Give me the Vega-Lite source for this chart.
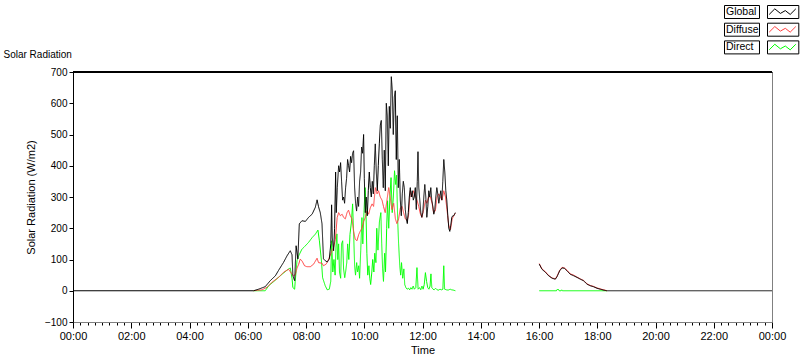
{
  "$schema": "https://vega.github.io/schema/vega-lite/v6.json",
  "width": 699,
  "height": 250,
  "autosize": {"type": "none"},
  "padding": {"left": 73, "top": 72, "right": 28, "bottom": 39},
  "background": "white",
  "data": {"values": [
    {"s":"Global","p":1,"h":0,"v":0},{"s":"Global","p":1,"h":6.2,"v":0},{"s":"Global","p":1,"h":6.37,"v":5},{"s":"Global","p":1,"h":6.6,"v":13},{"s":"Global","p":1,"h":6.77,"v":32},{"s":"Global","p":1,"h":6.95,"v":48},{"s":"Global","p":1,"h":7.05,"v":64},{"s":"Global","p":1,"h":7.23,"v":91},{"s":"Global","p":1,"h":7.35,"v":112},{"s":"Global","p":1,"h":7.46,"v":128},{"s":"Global","p":1,"h":7.52,"v":115},{"s":"Global","p":1,"h":7.55,"v":48},{"s":"Global","p":1,"h":7.61,"v":32},{"s":"Global","p":1,"h":7.66,"v":144},{"s":"Global","p":1,"h":7.72,"v":102},{"s":"Global","p":1,"h":7.77,"v":214},{"s":"Global","p":1,"h":7.86,"v":224},{"s":"Global","p":1,"h":7.98,"v":222},{"s":"Global","p":1,"h":8.09,"v":235},{"s":"Global","p":1,"h":8.21,"v":245},{"s":"Global","p":1,"h":8.32,"v":267},{"s":"Global","p":1,"h":8.38,"v":291},{"s":"Global","p":1,"h":8.43,"v":269},{"s":"Global","p":1,"h":8.49,"v":250},{"s":"Global","p":1,"h":8.55,"v":214},{"s":"Global","p":1,"h":8.6,"v":102},
    {"s":"Global","p":1,"h":8.663,"v":96},{"s":"Global","p":1,"h":8.732,"v":92},{"s":"Global","p":1,"h":8.8,"v":102},{"s":"Global","p":1,"h":8.852,"v":150},{"s":"Global","p":1,"h":8.879,"v":275},{"s":"Global","p":1,"h":8.903,"v":170},{"s":"Global","p":1,"h":8.948,"v":128},{"s":"Global","p":1,"h":8.982,"v":200},{"s":"Global","p":1,"h":9.017,"v":380},{"s":"Global","p":1,"h":9.04,"v":250},{"s":"Global","p":1,"h":9.075,"v":330},{"s":"Global","p":1,"h":9.12,"v":400},{"s":"Global","p":1,"h":9.154,"v":380},{"s":"Global","p":1,"h":9.188,"v":410},{"s":"Global","p":1,"h":9.222,"v":350},{"s":"Global","p":1,"h":9.257,"v":290},{"s":"Global","p":1,"h":9.291,"v":300},{"s":"Global","p":1,"h":9.325,"v":280},{"s":"Global","p":1,"h":9.36,"v":330},{"s":"Global","p":1,"h":9.394,"v":360},{"s":"Global","p":1,"h":9.428,"v":420},{"s":"Global","p":1,"h":9.463,"v":400},{"s":"Global","p":1,"h":9.497,"v":380},{"s":"Global","p":1,"h":9.531,"v":430},{"s":"Global","p":1,"h":9.566,"v":410},{"s":"Global","p":1,"h":9.6,"v":440},{"s":"Global","p":1,"h":9.634,"v":448},{"s":"Global","p":1,"h":9.669,"v":330},{"s":"Global","p":1,"h":9.703,"v":280},{"s":"Global","p":1,"h":9.737,"v":255},{"s":"Global","p":1,"h":9.772,"v":300},{"s":"Global","p":1,"h":9.806,"v":270},{"s":"Global","p":1,"h":9.84,"v":350},{"s":"Global","p":1,"h":9.875,"v":380},{"s":"Global","p":1,"h":9.909,"v":460},{"s":"Global","p":1,"h":9.943,"v":440},{"s":"Global","p":1,"h":9.978,"v":500},{"s":"Global","p":1,"h":10.002,"v":360},{"s":"Global","p":1,"h":10.036,"v":250},{"s":"Global","p":1,"h":10.07,"v":300},{"s":"Global","p":1,"h":10.105,"v":240},{"s":"Global","p":1,"h":10.139,"v":320},{"s":"Global","p":1,"h":10.173,"v":380},{"s":"Global","p":1,"h":10.208,"v":330},{"s":"Global","p":1,"h":10.242,"v":300},{"s":"Global","p":1,"h":10.276,"v":350},{"s":"Global","p":1,"h":10.311,"v":310},{"s":"Global","p":1,"h":10.345,"v":400},{"s":"Global","p":1,"h":10.379,"v":470},{"s":"Global","p":1,"h":10.414,"v":380},{"s":"Global","p":1,"h":10.448,"v":320},{"s":"Global","p":1,"h":10.482,"v":400},{"s":"Global","p":1,"h":10.517,"v":470},{"s":"Global","p":1,"h":10.551,"v":530},{"s":"Global","p":1,"h":10.585,"v":545},{"s":"Global","p":1,"h":10.62,"v":420},{"s":"Global","p":1,"h":10.654,"v":330},{"s":"Global","p":1,"h":10.688,"v":450},{"s":"Global","p":1,"h":10.723,"v":320},{"s":"Global","p":1,"h":10.757,"v":600},{"s":"Global","p":1,"h":10.791,"v":560},{"s":"Global","p":1,"h":10.826,"v":400},{"s":"Global","p":1,"h":10.86,"v":590},{"s":"Global","p":1,"h":10.894,"v":520},{"s":"Global","p":1,"h":10.929,"v":685},{"s":"Global","p":1,"h":10.963,"v":640},{"s":"Global","p":1,"h":10.997,"v":500},{"s":"Global","p":1,"h":11.032,"v":620},{"s":"Global","p":1,"h":11.066,"v":640},{"s":"Global","p":1,"h":11.1,"v":420},{"s":"Global","p":1,"h":11.135,"v":560},{"s":"Global","p":1,"h":11.169,"v":330},{"s":"Global","p":1,"h":11.203,"v":420},{"s":"Global","p":1,"h":11.238,"v":290},{"s":"Global","p":1,"h":11.272,"v":240},{"s":"Global","p":1,"h":11.306,"v":310},{"s":"Global","p":1,"h":11.341,"v":350},{"s":"Global","p":1,"h":11.375,"v":330},{"s":"Global","p":1,"h":11.409,"v":260},{"s":"Global","p":1,"h":11.444,"v":230},{"s":"Global","p":1,"h":11.478,"v":215},{"s":"Global","p":1,"h":11.512,"v":250},{"s":"Global","p":1,"h":11.547,"v":300},{"s":"Global","p":1,"h":11.581,"v":330},{"s":"Global","p":1,"h":11.615,"v":300},{"s":"Global","p":1,"h":11.65,"v":320},{"s":"Global","p":1,"h":11.684,"v":290},{"s":"Global","p":1,"h":11.718,"v":300},{"s":"Global","p":1,"h":11.753,"v":330},{"s":"Global","p":1,"h":11.787,"v":260},{"s":"Global","p":1,"h":11.821,"v":350},{"s":"Global","p":1,"h":11.845,"v":445},{"s":"Global","p":1,"h":11.873,"v":330},{"s":"Global","p":1,"h":11.907,"v":290},{"s":"Global","p":1,"h":11.942,"v":250},{"s":"Global","p":1,"h":11.976,"v":235},{"s":"Global","p":1,"h":12.01,"v":250},{"s":"Global","p":1,"h":12.045,"v":300},{"s":"Global","p":1,"h":12.079,"v":340},{"s":"Global","p":1,"h":12.113,"v":300},{"s":"Global","p":1,"h":12.148,"v":235},{"s":"Global","p":1,"h":12.182,"v":270},{"s":"Global","p":1,"h":12.216,"v":320},{"s":"Global","p":1,"h":12.251,"v":300},{"s":"Global","p":1,"h":12.285,"v":330},{"s":"Global","p":1,"h":12.319,"v":290},{"s":"Global","p":1,"h":12.354,"v":270},{"s":"Global","p":1,"h":12.388,"v":245},{"s":"Global","p":1,"h":12.422,"v":260},{"s":"Global","p":1,"h":12.457,"v":300},{"s":"Global","p":1,"h":12.491,"v":330},{"s":"Global","p":1,"h":12.525,"v":310},{"s":"Global","p":1,"h":12.56,"v":280},{"s":"Global","p":1,"h":12.594,"v":300},{"s":"Global","p":1,"h":12.628,"v":320},{"s":"Global","p":1,"h":12.663,"v":290},{"s":"Global","p":1,"h":12.697,"v":350},{"s":"Global","p":1,"h":12.731,"v":420},{"s":"Global","p":1,"h":12.766,"v":380},{"s":"Global","p":1,"h":12.8,"v":320},{"s":"Global","p":1,"h":12.834,"v":290},{"s":"Global","p":1,"h":12.869,"v":240},{"s":"Global","p":1,"h":12.903,"v":200},{"s":"Global","p":1,"h":12.937,"v":190},{"s":"Global","p":1,"h":12.972,"v":210},{"s":"Global","p":1,"h":13.006,"v":235},{"s":"Global","p":1,"h":13.04,"v":240},{"s":"Global","p":1,"h":13.075,"v":240},{"s":"Global","p":1,"h":13.126,"v":250},
    {"s":"Global","p":2,"h":16.01,"v":85},{"s":"Global","p":2,"h":16.1,"v":69},{"s":"Global","p":2,"h":16.22,"v":59},{"s":"Global","p":2,"h":16.33,"v":48},{"s":"Global","p":2,"h":16.45,"v":40},{"s":"Global","p":2,"h":16.56,"v":37},{"s":"Global","p":2,"h":16.62,"v":45},{"s":"Global","p":2,"h":16.71,"v":64},{"s":"Global","p":2,"h":16.79,"v":73},{"s":"Global","p":2,"h":16.87,"v":72},{"s":"Global","p":2,"h":16.96,"v":64},{"s":"Global","p":2,"h":17.07,"v":53},{"s":"Global","p":2,"h":17.19,"v":48},{"s":"Global","p":2,"h":17.3,"v":43},{"s":"Global","p":2,"h":17.42,"v":37},{"s":"Global","p":2,"h":17.53,"v":32},{"s":"Global","p":2,"h":17.65,"v":21},{"s":"Global","p":2,"h":17.76,"v":16},{"s":"Global","p":2,"h":17.87,"v":13},{"s":"Global","p":2,"h":17.99,"v":8},{"s":"Global","p":2,"h":18.1,"v":5},{"s":"Global","p":2,"h":18.22,"v":2},{"s":"Global","p":2,"h":18.33,"v":0},{"s":"Global","p":2,"h":24,"v":0},
    {"s":"Diffuse","p":1,"h":6.2,"v":0},{"s":"Diffuse","p":1,"h":6.49,"v":3},{"s":"Diffuse","p":1,"h":6.66,"v":11},{"s":"Diffuse","p":1,"h":6.83,"v":27},{"s":"Diffuse","p":1,"h":7.06,"v":43},{"s":"Diffuse","p":1,"h":7.23,"v":59},{"s":"Diffuse","p":1,"h":7.4,"v":69},{"s":"Diffuse","p":1,"h":7.52,"v":53},{"s":"Diffuse","p":1,"h":7.57,"v":48},{"s":"Diffuse","p":1,"h":7.63,"v":51},{"s":"Diffuse","p":1,"h":7.69,"v":72},{"s":"Diffuse","p":1,"h":7.75,"v":85},{"s":"Diffuse","p":1,"h":7.8,"v":101},{"s":"Diffuse","p":1,"h":7.86,"v":96},{"s":"Diffuse","p":1,"h":7.95,"v":80},{"s":"Diffuse","p":1,"h":8.03,"v":77},{"s":"Diffuse","p":1,"h":8.15,"v":77},{"s":"Diffuse","p":1,"h":8.26,"v":85},{"s":"Diffuse","p":1,"h":8.38,"v":104},{"s":"Diffuse","p":1,"h":8.43,"v":90},{"s":"Diffuse","p":1,"h":8.55,"v":88},{"s":"Diffuse","p":1,"h":8.6,"v":80},{"s":"Diffuse","p":1,"h":8.69,"v":85},{"s":"Diffuse","p":1,"h":8.78,"v":101},{"s":"Diffuse","p":1,"h":8.87,"v":123},{"s":"Diffuse","p":1,"h":8.95,"v":139},{"s":"Diffuse","p":1,"h":9.01,"v":165},{"s":"Diffuse","p":1,"h":9.07,"v":234},{"s":"Diffuse","p":1,"h":9.12,"v":250},{"s":"Diffuse","p":1,"h":9.18,"v":240},{"s":"Diffuse","p":1,"h":9.24,"v":245},{"s":"Diffuse","p":1,"h":9.29,"v":235},{"s":"Diffuse","p":1,"h":9.35,"v":230},{"s":"Diffuse","p":1,"h":9.41,"v":250},{"s":"Diffuse","p":1,"h":9.46,"v":258},{"s":"Diffuse","p":1,"h":9.52,"v":240},{"s":"Diffuse","p":1,"h":9.58,"v":230},{"s":"Diffuse","p":1,"h":9.63,"v":192},{"s":"Diffuse","p":1,"h":9.69,"v":165},{"s":"Diffuse","p":1,"h":9.75,"v":160},{"s":"Diffuse","p":1,"h":9.81,"v":180},{"s":"Diffuse","p":1,"h":9.86,"v":190},{"s":"Diffuse","p":1,"h":9.92,"v":200},{"s":"Diffuse","p":1,"h":9.98,"v":222},{"s":"Diffuse","p":1,"h":10.04,"v":235},{"s":"Diffuse","p":1,"h":10.09,"v":255},{"s":"Diffuse","p":1,"h":10.15,"v":245},{"s":"Diffuse","p":1,"h":10.21,"v":266},{"s":"Diffuse","p":1,"h":10.27,"v":278},{"s":"Diffuse","p":1,"h":10.32,"v":270},{"s":"Diffuse","p":1,"h":10.38,"v":330},{"s":"Diffuse","p":1,"h":10.44,"v":310},{"s":"Diffuse","p":1,"h":10.49,"v":320},{"s":"Diffuse","p":1,"h":10.55,"v":300},{"s":"Diffuse","p":1,"h":10.61,"v":290},{"s":"Diffuse","p":1,"h":10.66,"v":270},{"s":"Diffuse","p":1,"h":10.72,"v":250},{"s":"Diffuse","p":1,"h":10.78,"v":290},{"s":"Diffuse","p":1,"h":10.84,"v":330},{"s":"Diffuse","p":1,"h":10.89,"v":300},{"s":"Diffuse","p":1,"h":10.95,"v":260},{"s":"Diffuse","p":1,"h":11.01,"v":280},{"s":"Diffuse","p":1,"h":11.07,"v":230},{"s":"Diffuse","p":1,"h":11.12,"v":215},{"s":"Diffuse","p":1,"h":11.18,"v":230},{"s":"Diffuse","p":1,"h":11.24,"v":265},{"s":"Diffuse","p":1,"h":11.3,"v":270},{"s":"Diffuse","p":1,"h":11.35,"v":250},{"s":"Diffuse","p":1,"h":11.41,"v":230},{"s":"Diffuse","p":1,"h":11.47,"v":225},{"s":"Diffuse","p":1,"h":11.52,"v":240},{"s":"Diffuse","p":1,"h":11.58,"v":320},{"s":"Diffuse","p":1,"h":11.64,"v":300},{"s":"Diffuse","p":1,"h":11.69,"v":320},{"s":"Diffuse","p":1,"h":11.75,"v":305},{"s":"Diffuse","p":1,"h":11.81,"v":290},{"s":"Diffuse","p":1,"h":11.87,"v":270},{"s":"Diffuse","p":1,"h":11.93,"v":245},{"s":"Diffuse","p":1,"h":11.98,"v":235},{"s":"Diffuse","p":1,"h":12.04,"v":260},{"s":"Diffuse","p":1,"h":12.1,"v":290},{"s":"Diffuse","p":1,"h":12.15,"v":280},{"s":"Diffuse","p":1,"h":12.21,"v":300},{"s":"Diffuse","p":1,"h":12.27,"v":300},{"s":"Diffuse","p":1,"h":12.33,"v":280},{"s":"Diffuse","p":1,"h":12.38,"v":250},{"s":"Diffuse","p":1,"h":12.44,"v":255},{"s":"Diffuse","p":1,"h":12.5,"v":300},{"s":"Diffuse","p":1,"h":12.56,"v":310},{"s":"Diffuse","p":1,"h":12.61,"v":300},{"s":"Diffuse","p":1,"h":12.67,"v":290},{"s":"Diffuse","p":1,"h":12.73,"v":320},{"s":"Diffuse","p":1,"h":12.79,"v":300},{"s":"Diffuse","p":1,"h":12.84,"v":260},{"s":"Diffuse","p":1,"h":12.9,"v":210},{"s":"Diffuse","p":1,"h":12.96,"v":195},{"s":"Diffuse","p":1,"h":13.02,"v":230},{"s":"Diffuse","p":1,"h":13.07,"v":240},{"s":"Diffuse","p":1,"h":13.13,"v":248},
    {"s":"Diffuse","p":2,"h":16.01,"v":87},{"s":"Diffuse","p":2,"h":16.1,"v":70},{"s":"Diffuse","p":2,"h":16.22,"v":61},{"s":"Diffuse","p":2,"h":16.33,"v":49},{"s":"Diffuse","p":2,"h":16.45,"v":41},{"s":"Diffuse","p":2,"h":16.56,"v":38},{"s":"Diffuse","p":2,"h":16.62,"v":47},{"s":"Diffuse","p":2,"h":16.71,"v":65},{"s":"Diffuse","p":2,"h":16.79,"v":75},{"s":"Diffuse","p":2,"h":16.87,"v":73},{"s":"Diffuse","p":2,"h":16.96,"v":66},{"s":"Diffuse","p":2,"h":17.07,"v":54},{"s":"Diffuse","p":2,"h":17.19,"v":50},{"s":"Diffuse","p":2,"h":17.3,"v":44},{"s":"Diffuse","p":2,"h":17.42,"v":38},{"s":"Diffuse","p":2,"h":17.53,"v":33},{"s":"Diffuse","p":2,"h":17.65,"v":22},{"s":"Diffuse","p":2,"h":17.76,"v":17},{"s":"Diffuse","p":2,"h":17.87,"v":14},{"s":"Diffuse","p":2,"h":17.99,"v":9},{"s":"Diffuse","p":2,"h":18.1,"v":6},{"s":"Diffuse","p":2,"h":18.22,"v":3},{"s":"Diffuse","p":2,"h":18.33,"v":0},
    {"s":"Direct","p":1,"h":6.2,"v":0},{"s":"Direct","p":1,"h":6.6,"v":0},{"s":"Direct","p":1,"h":6.72,"v":16},{"s":"Direct","p":1,"h":6.95,"v":34},{"s":"Direct","p":1,"h":7.18,"v":53},{"s":"Direct","p":1,"h":7.35,"v":66},{"s":"Direct","p":1,"h":7.46,"v":73},{"s":"Direct","p":1,"h":7.52,"v":40},{"s":"Direct","p":1,"h":7.55,"v":10},{"s":"Direct","p":1,"h":7.61,"v":5},{"s":"Direct","p":1,"h":7.63,"v":30},{"s":"Direct","p":1,"h":7.69,"v":96},{"s":"Direct","p":1,"h":7.75,"v":112},{"s":"Direct","p":1,"h":7.86,"v":133},{"s":"Direct","p":1,"h":7.98,"v":144},{"s":"Direct","p":1,"h":8.09,"v":155},{"s":"Direct","p":1,"h":8.21,"v":170},{"s":"Direct","p":1,"h":8.32,"v":181},{"s":"Direct","p":1,"h":8.41,"v":194},{"s":"Direct","p":1,"h":8.46,"v":160},{"s":"Direct","p":1,"h":8.53,"v":96},{"s":"Direct","p":1,"h":8.57,"v":42},{"s":"Direct","p":1,"h":8.66,"v":16},{"s":"Direct","p":1,"h":8.73,"v":3},{"s":"Direct","p":1,"h":8.8,"v":5},{"s":"Direct","p":1,"h":8.85,"v":30},{"s":"Direct","p":1,"h":8.88,"v":160},{"s":"Direct","p":1,"h":8.92,"v":60},{"s":"Direct","p":1,"h":8.96,"v":100},{"s":"Direct","p":1,"h":9.0,"v":50},{"s":"Direct","p":1,"h":9.03,"v":140},{"s":"Direct","p":1,"h":9.06,"v":182},{"s":"Direct","p":1,"h":9.09,"v":100},{"s":"Direct","p":1,"h":9.12,"v":150},{"s":"Direct","p":1,"h":9.15,"v":60},{"s":"Direct","p":1,"h":9.19,"v":40},{"s":"Direct","p":1,"h":9.22,"v":150},{"s":"Direct","p":1,"h":9.26,"v":160},{"s":"Direct","p":1,"h":9.29,"v":70},{"s":"Direct","p":1,"h":9.33,"v":42},{"s":"Direct","p":1,"h":9.36,"v":60},{"s":"Direct","p":1,"h":9.4,"v":90},{"s":"Direct","p":1,"h":9.43,"v":150},{"s":"Direct","p":1,"h":9.47,"v":100},{"s":"Direct","p":1,"h":9.51,"v":180},{"s":"Direct","p":1,"h":9.56,"v":220},{"s":"Direct","p":1,"h":9.6,"v":278},{"s":"Direct","p":1,"h":9.63,"v":200},{"s":"Direct","p":1,"h":9.67,"v":80},{"s":"Direct","p":1,"h":9.7,"v":50},{"s":"Direct","p":1,"h":9.74,"v":90},{"s":"Direct","p":1,"h":9.77,"v":60},{"s":"Direct","p":1,"h":9.81,"v":80},{"s":"Direct","p":1,"h":9.84,"v":40},{"s":"Direct","p":1,"h":9.88,"v":130},{"s":"Direct","p":1,"h":9.92,"v":234},{"s":"Direct","p":1,"h":9.95,"v":150},{"s":"Direct","p":1,"h":9.99,"v":250},{"s":"Direct","p":1,"h":10.03,"v":330},{"s":"Direct","p":1,"h":10.06,"v":250},{"s":"Direct","p":1,"h":10.09,"v":120},{"s":"Direct","p":1,"h":10.12,"v":50},{"s":"Direct","p":1,"h":10.16,"v":80},{"s":"Direct","p":1,"h":10.19,"v":40},{"s":"Direct","p":1,"h":10.22,"v":20},{"s":"Direct","p":1,"h":10.26,"v":60},{"s":"Direct","p":1,"h":10.29,"v":100},{"s":"Direct","p":1,"h":10.33,"v":60},{"s":"Direct","p":1,"h":10.36,"v":120},{"s":"Direct","p":1,"h":10.4,"v":90},{"s":"Direct","p":1,"h":10.43,"v":200},{"s":"Direct","p":1,"h":10.47,"v":130},{"s":"Direct","p":1,"h":10.52,"v":220},{"s":"Direct","p":1,"h":10.57,"v":250},{"s":"Direct","p":1,"h":10.6,"v":150},{"s":"Direct","p":1,"h":10.63,"v":70},{"s":"Direct","p":1,"h":10.66,"v":30},{"s":"Direct","p":1,"h":10.7,"v":120},{"s":"Direct","p":1,"h":10.73,"v":60},{"s":"Direct","p":1,"h":10.77,"v":200},{"s":"Direct","p":1,"h":10.8,"v":288},{"s":"Direct","p":1,"h":10.84,"v":200},{"s":"Direct","p":1,"h":10.88,"v":300},{"s":"Direct","p":1,"h":10.92,"v":362},{"s":"Direct","p":1,"h":10.96,"v":250},{"s":"Direct","p":1,"h":11.0,"v":300},{"s":"Direct","p":1,"h":11.04,"v":384},{"s":"Direct","p":1,"h":11.08,"v":340},{"s":"Direct","p":1,"h":11.11,"v":370},{"s":"Direct","p":1,"h":11.15,"v":220},{"s":"Direct","p":1,"h":11.18,"v":150},{"s":"Direct","p":1,"h":11.22,"v":80},{"s":"Direct","p":1,"h":11.25,"v":50},{"s":"Direct","p":1,"h":11.28,"v":90},{"s":"Direct","p":1,"h":11.32,"v":40},{"s":"Direct","p":1,"h":11.36,"v":70},{"s":"Direct","p":1,"h":11.39,"v":20},{"s":"Direct","p":1,"h":11.43,"v":10},{"s":"Direct","p":1,"h":11.47,"v":5},{"s":"Direct","p":1,"h":11.52,"v":8},{"s":"Direct","p":1,"h":11.56,"v":3},{"s":"Direct","p":1,"h":11.6,"v":10},{"s":"Direct","p":1,"h":11.64,"v":5},{"s":"Direct","p":1,"h":11.68,"v":15},{"s":"Direct","p":1,"h":11.72,"v":5},{"s":"Direct","p":1,"h":11.77,"v":10},{"s":"Direct","p":1,"h":11.81,"v":74},{"s":"Direct","p":1,"h":11.85,"v":5},{"s":"Direct","p":1,"h":11.9,"v":10},{"s":"Direct","p":1,"h":11.94,"v":3},{"s":"Direct","p":1,"h":11.98,"v":15},{"s":"Direct","p":1,"h":12.02,"v":5},{"s":"Direct","p":1,"h":12.06,"v":20},{"s":"Direct","p":1,"h":12.1,"v":58},{"s":"Direct","p":1,"h":12.14,"v":30},{"s":"Direct","p":1,"h":12.18,"v":10},{"s":"Direct","p":1,"h":12.22,"v":5},{"s":"Direct","p":1,"h":12.26,"v":15},{"s":"Direct","p":1,"h":12.29,"v":54},{"s":"Direct","p":1,"h":12.32,"v":10},{"s":"Direct","p":1,"h":12.36,"v":5},{"s":"Direct","p":1,"h":12.4,"v":3},{"s":"Direct","p":1,"h":12.45,"v":8},{"s":"Direct","p":1,"h":12.5,"v":3},{"s":"Direct","p":1,"h":12.55,"v":2},{"s":"Direct","p":1,"h":12.6,"v":5},{"s":"Direct","p":1,"h":12.65,"v":3},{"s":"Direct","p":1,"h":12.7,"v":5},{"s":"Direct","p":1,"h":12.73,"v":80},{"s":"Direct","p":1,"h":12.76,"v":5},{"s":"Direct","p":1,"h":12.82,"v":3},{"s":"Direct","p":1,"h":12.88,"v":2},{"s":"Direct","p":1,"h":12.95,"v":5},{"s":"Direct","p":1,"h":13.0,"v":3},{"s":"Direct","p":1,"h":13.06,"v":2},{"s":"Direct","p":1,"h":13.13,"v":0},
    {"s":"Direct","p":2,"h":16.01,"v":0},{"s":"Direct","p":2,"h":16.6,"v":0},{"s":"Direct","p":2,"h":16.62,"v":4},{"s":"Direct","p":2,"h":16.67,"v":4},{"s":"Direct","p":2,"h":16.69,"v":0},{"s":"Direct","p":2,"h":16.76,"v":0},{"s":"Direct","p":2,"h":16.78,"v":3},{"s":"Direct","p":2,"h":16.8,"v":0},{"s":"Direct","p":2,"h":18.33,"v":0}
  ]},
  "resolve": {"axis": {"x": "independent", "y": "independent"}},
  "layer": [
    {
      "encoding": {
        "x": {"field": "h", "type": "quantitative", "title": "Time",
          "scale": {"domain": [0, 24], "nice": false, "zero": false},
          "axis": {
            "orient": "bottom",
            "values": [0,0.25,0.5,0.75,1,1.25,1.5,1.75,2,2.25,2.5,2.75,3,3.25,3.5,3.75,4,4.25,4.5,4.75,5,5.25,5.5,5.75,6,6.25,6.5,6.75,7,7.25,7.5,7.75,8,8.25,8.5,8.75,9,9.25,9.5,9.75,10,10.25,10.5,10.75,11,11.25,11.5,11.75,12,12.25,12.5,12.75,13,13.25,13.5,13.75,14,14.25,14.5,14.75,15,15.25,15.5,15.75,16,16.25,16.5,16.75,17,17.25,17.5,17.75,18,18.25,18.5,18.75,19,19.25,19.5,19.75,20,20.25,20.5,20.75,21,21.25,21.5,21.75,22,22.25,22.5,22.75,23,23.25,23.5,23.75,24],
            "labelExpr": "datum.value % 2 == 0 ? ((datum.value % 24) < 10 ? '0' : '') + (datum.value % 24) + ':00' : ''",
            "tickSize": {"condition": {"test": "datum.value % 2 == 0", "value": 6}, "value": 3},
            "labelPadding": 2,
            "labelFontSize": 11,
            "labelOverlap": false,
            "labelFlush": false,
            "domainColor": "#808080",
            "titlePadding": 3
          }
        },
        "y": {"field": "v", "type": "quantitative", "title": "Solar Radiation (W/m2)",
          "scale": {"domain": [-100, 700], "nice": false},
          "axis": {"orient": "left", "values": [-100,0,100,200,300,400,500,600,700], "tickSize": 4, "labelPadding": 2, "titlePadding": 8, "labelOverlap": false}
        },
        "color": {"field": "s", "type": "nominal",
          "scale": {"domain": ["Global", "Diffuse", "Direct"], "range": ["#000000", "#ff4040", "#00ff00"]},
          "legend": {"orient": "none", "legendX": 694, "legendY": -67, "title": null,
            "symbolType": "M-1.9,0.35L-1.1,-0.45L-0.3,0.2L0.4,-0.2L1.1,0.35L1.9,-0.45",
            "symbolSize": 196, "symbolStrokeWidth": 1, "labelExpr": "''", "labelOffset": 0, "rowPadding": 4.7,
            "encode": {
              "entries": {"update": {"stroke": {"value": "#000000"}, "strokeWidth": {"value": 1}, "width": {"value": 31}, "height": {"value": 14}, "fill": {"value": "#ffffff"}}},
              "symbols": {"update": {"x": {"value": 15.5}, "y": {"value": 7}}}
            }
          }
        },
        "strokeDash": {"field": "s", "type": "nominal", "sort": ["Global", "Diffuse", "Direct"],
          "scale": {"range": [[1, 0], [1, 0], [1, 0]]},
          "legend": {"orient": "none", "legendX": 651, "legendY": -67, "title": null,
            "symbolSize": 196, "symbolStrokeWidth": 0, "symbolOpacity": 0, "labelOffset": 2, "labelFontSize": 10.5, "rowPadding": 4.7,
            "encode": {
              "entries": {"update": {"stroke": {"value": "#000000"}, "strokeWidth": {"value": 1}, "width": {"value": 38}, "height": {"value": 14}, "fill": {"value": "#ffffff"}}},
              "labels": {"update": {"x": {"value": 2}, "y": {"value": 7}, "baseline": {"value": "middle"}, "align": {"value": "left"}}}
            }
          }
        },
        "detail": {"field": "p", "type": "nominal"}
      },
      "layer": [
        {"transform": [{"filter": "datum.s == 'Direct'"}], "mark": {"type": "line", "strokeWidth": 1}},
        {"transform": [{"filter": "datum.s == 'Diffuse'"}], "mark": {"type": "line", "strokeWidth": 1}},
        {"transform": [{"filter": "datum.s == 'Global'"}], "mark": {"type": "line", "strokeWidth": 1}}
      ]
    },
    {
      "mark": {"type": "rule", "color": "#000000", "strokeWidth": 1},
      "encoding": {
        "y": {"datum": 700, "type": "quantitative", "axis": null},
        "x": {"datum": 0, "type": "quantitative",
          "axis": {"orient": "top", "ticks": false, "labels": false, "domain": true, "domainColor": "#000000",
            "title": "Solar Radiation", "titleAnchor": "start", "titleAlign": "left", "titleBaseline": "alphabetic",
            "titleX": -70, "titleY": -15, "titleFontSize": 10, "titleAngle": 0}
        },
        "x2": {"datum": 24}
      }
    }
  ],
  "config": {
    "font": "Liberation Sans",
    "view": {"stroke": "#808080", "strokeWidth": 1},
    "axis": {"labelFont": "Liberation Sans", "labelFontSize": 10, "labelColor": "#000000", "titleFont": "Liberation Sans", "titleFontSize": 11, "titleFontWeight": "normal", "titleColor": "#000000", "tickColor": "#000000", "domainColor": "#000000", "grid": false},
    "axisY": {"labelOverlap": false},
    "legend": {"labelFont": "Liberation Sans", "labelColor": "#000000"}
  }
}
